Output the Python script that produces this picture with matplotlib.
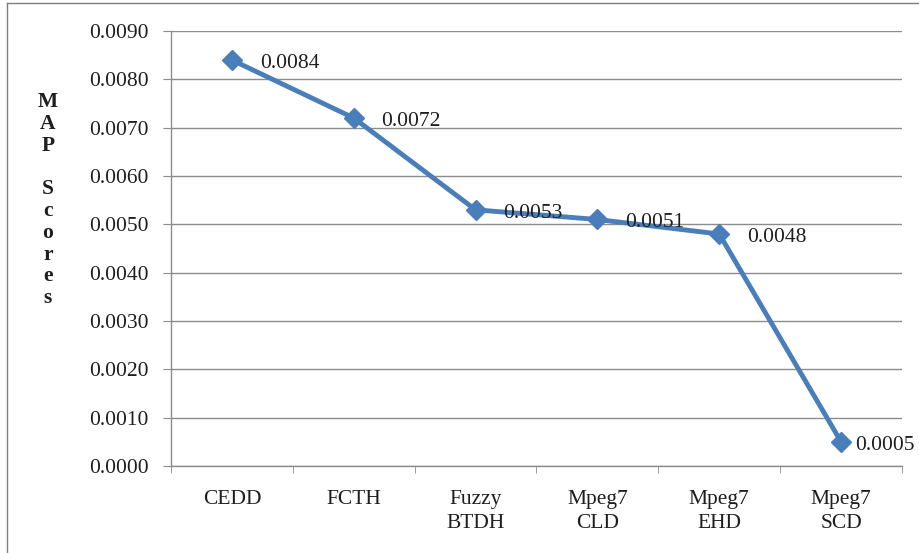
import matplotlib.pyplot as plt
from matplotlib.lines import Line2D

# Data
methods = ['CEDD', 'FCTH', 'Fuzzy\nBTDH', 'Mpeg7\nCLD', 'Mpeg7\nEHD', 'Mpeg7\nSCD']
map_scores = [0.0084, 0.0072, 0.0053, 0.0051, 0.0048, 0.0005]
value_labels = ['0.0084', '0.0072', '0.0053', '0.0051', '0.0048', '0.0005']
y_ticks = [0.0, 0.001, 0.002, 0.003, 0.004, 0.005, 0.006, 0.007, 0.008, 0.009]
y_letters = ['M', 'A', 'P', '', 'S', 'c', 'o', 'r', 'e', 's']

LINE_BLUE = '#4A7EBB'
GRID_GRAY = '#8C8C8C'
TEXT = '#1E1E1E'
FS = 15.5

plt.rcParams['font.family'] = ['Liberation Serif', 'DejaVu Serif']

fig = plt.figure(figsize=(9.2, 5.53), dpi=100)
ax = fig.add_axes([171 / 920, 87 / 553, 731 / 920, 435 / 553])

x = list(range(len(methods)))
ax.plot(x, map_scores, color=LINE_BLUE, lw=3.5, marker='D', ms=10.5,
        markerfacecolor=LINE_BLUE, markeredgecolor=LINE_BLUE, zorder=3)

# data labels to the right of each point
for i, (v, lab) in enumerate(zip(map_scores, value_labels)):
    dx = 20 if i < len(map_scores) - 1 else 10
    ax.annotate(lab, (i, v), xytext=(dx, -2.5), textcoords='offset points',
                ha='left', va='center', fontsize=FS, color=TEXT)

ax.set_xlim(-0.5, len(methods) - 0.5)
ax.set_ylim(0, 0.009)
ax.set_yticks(y_ticks)
ax.set_yticklabels([f'{t:.4f}' for t in y_ticks], fontsize=FS, color=TEXT)
ax.set_xticks(x)
ax.set_xticklabels(methods, fontsize=FS, color=TEXT, linespacing=1.4)
ax.set_xticks([i - 0.5 for i in range(len(methods) + 1)], minor=True)
ax.tick_params(axis='x', which='major', length=0, pad=17)
ax.tick_params(axis='x', which='minor', length=5, color=GRID_GRAY, direction='out')
ax.tick_params(axis='y', length=6, color=GRID_GRAY, direction='out', pad=10)

ax.grid(axis='y', color=GRID_GRAY, lw=1)
ax.set_axisbelow(True)
for side in ['top', 'right']:
    ax.spines[side].set_visible(False)
for side in ['left', 'bottom']:
    ax.spines[side].set_color(GRID_GRAY)
    ax.spines[side].set_linewidth(1)

# stacked y-axis title, one letter per line
for k, ch in enumerate(y_letters):
    fig.text(48 / 920, 1 - (102 + 21.8 * k) / 553, ch, ha='center', va='center',
             fontsize=FS, fontweight='bold', color=TEXT)

# outer chart frame (left and top edges visible)
fig.add_artist(Line2D([7 / 920, 7 / 920], [0, 1 - 3 / 553], transform=fig.transFigure,
                      color='#7F7F7F', lw=1))
fig.add_artist(Line2D([7 / 920, 1], [1 - 3 / 553, 1 - 3 / 553], transform=fig.transFigure,
                      color='#7F7F7F', lw=1))

fig.savefig('out.png', dpi=100)
